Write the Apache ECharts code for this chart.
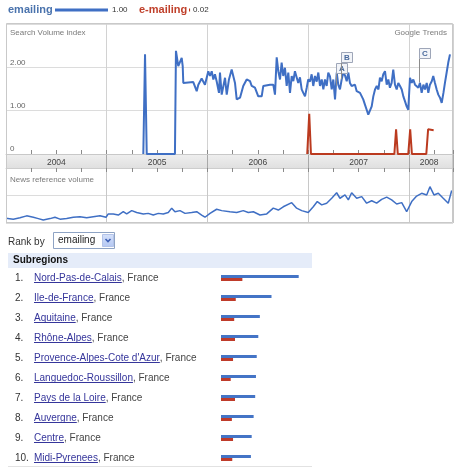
<!DOCTYPE html>
<html><head><meta charset="utf-8">
<script src="https://cdn.jsdelivr.net/npm/echarts@6/dist/echarts.min.js"></script>
<style>html,body{margin:0;padding:0;background:#fff}#c{width:460px;height:468px}</style>
</head><body><div id="c"></div>
<script>
const FONT = '"Liberation Sans", Arial, Helvetica, sans-serif';

// ---- data ----
const termNames = ['emailing', 'e-mailing'];
const termAverages = [1.00, 0.02];
const yearLabels = [2004, 2005, 2006, 2007, 2008];
const yearLabelPositions = [2004.5, 2005.5, 2006.5, 2007.5, 2008.2];
const volumeTicks = [0, 1, 2];

// [time (decimal year), search volume index]
const emailingSeries = [
[2005.363,0],[2005.380,2.30],[2005.397,0],[2005.677,0],[2005.687,2.38],[2005.710,2.03],[2005.727,2.07],[2005.744,2.22],[2005.754,2.03],[2005.760,1.64],
[2005.859,1.66],[2005.893,1.45],[2005.909,1.60],[2005.942,1.74],[2005.975,1.60],[2006.008,1.91],[2006.025,1.80],[2006.042,1.91],[2006.058,1.72],[2006.074,1.84],
[2006.091,1.68],[2006.114,1.41],[2006.124,1.88],[2006.141,1.37],[2006.174,1.76],[2006.191,1.37],[2006.213,1.72],[2006.240,1.95],[2006.273,1.64],[2006.290,1.26],
[2006.323,1.30],[2006.355,1.57],[2006.389,1.72],[2006.422,1.68],[2006.439,1.57],[2006.471,1.53],[2006.504,1.33],[2006.538,1.33],[2006.554,1.57],[2006.620,1.60],
[2006.653,1.60],[2006.670,1.37],[2006.687,2.23],[2006.703,1.91],[2006.720,1.72],[2006.736,2.11],[2006.752,1.80],[2006.769,1.99],[2006.786,1.57],[2006.802,1.88],
[2006.819,1.41],[2006.836,1.80],[2006.852,1.68],[2006.868,1.91],[2006.885,1.88],[2006.901,1.64],[2006.918,1.77],[2006.935,1.49],[2006.951,1.41],[2006.968,1.33],
[2006.985,1.53],[2007.000,1.72],[2007.017,1.67],[2007.034,1.84],[2007.050,1.57],[2007.067,1.80],[2007.084,1.67],[2007.100,1.88],[2007.117,1.57],[2007.134,1.72],
[2007.150,1.49],[2007.166,1.72],[2007.183,1.57],[2007.199,1.88],[2007.216,1.79],[2007.233,1.49],[2007.249,1.72],[2007.266,1.26],[2007.283,1.88],[2007.298,1.60],
[2007.315,1.49],[2007.332,1.72],[2007.348,1.88],[2007.365,1.81],[2007.382,1.68],[2007.398,1.88],[2007.414,1.64],[2007.431,1.57],[2007.448,1.53],[2007.464,1.60],
[2007.481,1.45],[2007.497,1.49],[2007.514,1.41],[2007.531,1.37],[2007.546,1.26],[2007.563,1.14],[2007.580,1.02],[2007.596,0.91],[2007.613,0.95],[2007.630,1.10],
[2007.646,1.33],[2007.663,1.49],[2007.680,1.57],[2007.697,1.49],[2007.712,1.76],[2007.729,1.68],[2007.745,1.84],[2007.762,1.91],[2007.779,1.60],[2007.795,1.72],
[2007.811,1.53],[2007.828,1.64],[2007.844,1.95],[2007.861,1.60],[2007.878,1.49],[2007.894,1.64],[2007.911,1.57],[2007.928,1.49],[2007.944,1.33],[2007.960,1.22],
[2007.977,1.10],[2007.993,1.02],[2008.010,1.76],[2008.027,1.64],[2008.043,1.72],[2008.060,1.60],[2008.077,1.64],[2008.093,1.53],[2008.109,1.64],[2008.126,1.41],
[2008.143,1.60],[2008.159,1.49],[2008.176,1.64],[2008.192,1.41],[2008.208,1.60],[2008.226,1.68],[2008.241,1.80],[2008.258,1.64],[2008.275,1.49],[2008.291,1.37],
[2008.308,1.30],[2008.325,1.18],[2008.342,1.41],[2008.357,1.64],[2008.374,1.88],[2008.390,2.11],[2008.407,2.30]
];
const eMailingSeries = [
[2006.990,0],[2007.010,0.93],[2007.027,0],[2007.855,0],[2007.872,0.57],[2007.889,0],[2007.993,0],[2008.012,0.57],[2008.029,0],[2008.172,0],[2008.190,0.57],[2008.245,0.55]
];
// [time, news reference volume (relative)]
const newsSeries = [
[2004.000,0.17],[2004.072,0.14],[2004.139,0.19],[2004.205,0.26],[2004.271,0.21],[2004.321,0.16],[2004.370,0.11],[2004.437,0.16],[2004.486,0.21],[2004.536,0.14],
[2004.602,0.16],[2004.668,0.21],[2004.734,0.23],[2004.801,0.19],[2004.866,0.23],[2004.933,0.26],[2004.993,0.21],[2005.015,0.33],[2005.065,0.33],[2005.115,0.29],
[2005.164,0.41],[2005.198,0.33],[2005.248,0.45],[2005.297,0.38],[2005.363,0.33],[2005.412,0.35],[2005.462,0.29],[2005.512,0.35],[2005.561,0.33],[2005.611,0.38],
[2005.645,0.54],[2005.677,0.41],[2005.727,0.45],[2005.777,0.35],[2005.843,0.38],[2005.893,0.41],[2005.942,0.29],[2005.975,0.21],[2006.025,0.35],[2006.091,0.50],
[2006.141,0.45],[2006.223,0.41],[2006.290,0.38],[2006.355,0.45],[2006.405,0.38],[2006.455,0.41],[2006.521,0.29],[2006.588,0.33],[2006.653,0.54],[2006.703,0.47],
[2006.752,0.59],[2006.836,0.74],[2006.885,0.54],[2006.935,0.45],[2007.000,0.38],[2007.050,0.59],[2007.090,0.78],[2007.134,0.66],[2007.183,0.72],[2007.233,0.90],
[2007.282,1.10],[2007.315,0.90],[2007.365,1.02],[2007.398,0.84],[2007.431,1.10],[2007.481,0.90],[2007.531,0.96],[2007.580,0.72],[2007.630,0.81],[2007.679,0.72],
[2007.729,0.86],[2007.779,0.94],[2007.828,0.84],[2007.878,0.69],[2007.928,0.74],[2007.977,0.41],[2008.027,0.78],[2008.076,0.98],[2008.126,1.08],[2008.176,1.02],
[2008.208,1.32],[2008.248,1.02],[2008.291,1.08],[2008.340,0.90],[2008.390,0.72],[2008.424,1.18]
];
// event flags on the emailing line: letter, time, anchor value
const eventLetters = ['A', 'B', 'C'];
const eventTimes = [2007.275, 2007.325, 2008.100];
const eventValues = [1.58, 1.72, 1.65];

const regionNames = ['Nord-Pas-de-Calais', 'Ile-de-France', 'Aquitaine', 'Rhône-Alpes', "Provence-Alpes-Cote d'Azur",
  'Languedoc-Roussillon', 'Pays de la Loire', 'Auvergne', 'Centre', 'Midi-Pyrenees'];
const regionCountry = 'France';
const emailingRegional = [100, 65, 50, 48, 46, 45, 44, 42, 39.5, 38.5];
const eMailingRegional = [27.5, 19, 17, 18, 15.5, 12.5, 18, 14, 15.5, 14.5];

// ---- styles ----
const BLUE = '#3f6fc4', RED = '#bb3a1f', LINK = '#35359b';
const X_MIN = 2004, X_MAX = 2008.437;
const poleLengths = [13, 17, 25];
const legendBarMax = 53;

const ul = document.createElement('canvas'); ul.width = 1; ul.height = 10;
const ulc = ul.getContext('2d'); ulc.fillStyle = LINK; ulc.fillRect(0, 9, 1, 1);

const chart = echarts.init(document.getElementById('c'), null, {renderer: 'canvas'});

const txt = (x, y, text, font, fill, align) => ({type: 'text', x: x, y: y, silent: true,
  style: {text: text, font: font, fill: fill, align: align || 'left', verticalAlign: 'middle'}});

const blueLen = legendBarMax * termAverages[0];
const redLen = Math.max(1, legendBarMax * termAverages[1]);

const graphics = [
  // legend
  txt(8, 10, termNames[0], 'bold 11px ' + FONT, '#4a73ad'),
  {type: 'rect', shape: {x: 55, y: 8.5, width: blueLen, height: 3}, style: {fill: BLUE}, silent: true},
  txt(55 + blueLen + 4, 10, termAverages[0].toFixed(2), '8px ' + FONT, '#333'),
  txt(139, 10, termNames[1], 'bold 11px ' + FONT, '#c0402b'),
  {type: 'rect', shape: {x: 189, y: 8.5, width: redLen, height: 3}, style: {fill: RED}, silent: true},
  txt(189 + redLen + 3, 10, termAverages[1].toFixed(2), '8px ' + FONT, '#333'),
  // chart frame
  {type: 'rect', shape: {x: 6.5, y: 23.5, width: 446, height: 199}, style: {fill: 'none', stroke: '#c9c9c9', lineWidth: 1}, silent: true, z: 10},
  txt(10, 33, 'Search Volume index', '8px ' + FONT, '#7a7a7a'),
  txt(447, 33, 'Google Trends', '8px ' + FONT, '#7a7a7a', 'right'),
  txt(10, 180, 'News reference volume', '8px ' + FONT, '#7a7a7a'),
  // rank by
  txt(8, 242, 'Rank by', '10px ' + FONT, '#333'),
  {type: 'rect', shape: {x: 53.5, y: 232.5, width: 61, height: 16}, style: {fill: '#fff', stroke: '#8ea3c4', lineWidth: 1}, silent: true},
  txt(58, 240.5, termNames[0], '10px ' + FONT, '#222'),
  {type: 'rect', shape: {x: 102.5, y: 234.5, width: 11, height: 12},
    style: {fill: new echarts.graphic.LinearGradient(0, 0, 0, 1, [{offset: 0, color: '#d6e2fb'}, {offset: 1, color: '#b4c7f2'}]), stroke: '#b3c3e8', lineWidth: 1}, silent: true},
  {type: 'polyline', shape: {points: [[105.5, 239], [108, 241.5], [110.5, 239]]}, style: {stroke: '#3d5fb5', lineWidth: 1.6, fill: 'none'}, silent: true},
  // subregions header
  {type: 'rect', shape: {x: 8, y: 253, width: 304, height: 15}, style: {fill: '#e5ecf9'}, silent: true},
  txt(13, 260.5, 'Subregions', 'bold 10px ' + FONT, '#111'),
  {type: 'line', shape: {x1: 8, y1: 466.5, x2: 312, y2: 466.5}, style: {stroke: '#e2e2e2', lineWidth: 1}, silent: true}
];

const tickAxis = (grid, pos) => ({type: 'value', gridIndex: grid, min: X_MIN, max: X_MAX, interval: 0.25, position: pos, offset: 0,
  axisLine: {show: false, onZero: false}, axisLabel: {show: false}, splitLine: {show: false},
  axisTick: {show: true, inside: true, length: 4, lineStyle: {color: '#8a8a8a'}}});
const yearAxis = (grid, color, pos) => ({type: 'value', gridIndex: grid, min: X_MIN, max: X_MAX, interval: 1, position: pos, offset: 0,
  axisLine: {show: false, onZero: false}, axisLabel: {show: false}, axisTick: {show: false},
  splitLine: {show: true, lineStyle: {color: color, width: 1}}});

const option = {
  animation: false,
  backgroundColor: '#fff',
  textStyle: {fontFamily: FONT},
  graphic: {elements: graphics},
  grid: [
    {left: 6, right: 7, top: 24, height: 130},
    {left: 6, right: 7, top: 154, height: 14, show: true, borderWidth: 0,
      backgroundColor: new echarts.graphic.LinearGradient(0, 0, 0, 1, [{offset: 0, color: '#efefef'}, {offset: 1, color: '#e0e0e0'}])},
    {left: 6, right: 7, top: 168, height: 55},
    {left: 221, top: 268, width: 77.7, height: 200}
  ],
  xAxis: [
    yearAxis(0, '#d2d2d2', 'top'),
    Object.assign(tickAxis(0, 'bottom'), {axisLine: {show: true, onZero: false, lineStyle: {color: '#c8c8c8'}}}),
    {type: 'value', gridIndex: 1, min: X_MIN, max: X_MAX, interval: 1, position: 'bottom',
      axisLine: {show: true, onZero: false, lineStyle: {color: '#cdcdcd'}}, axisTick: {show: false},
      splitLine: {show: true, lineStyle: {color: '#a9a9a9'}},
      axisLabel: {show: true, inside: true, margin: 1, customValues: yearLabelPositions,
        formatter: v => String(yearLabels[yearLabelPositions.indexOf(v)] ?? Math.floor(v)),
        fontSize: 8.5, color: '#444', fontFamily: FONT}},
    tickAxis(2, 'top'),
    yearAxis(2, '#c8c8c8', 'bottom'),
    {type: 'value', gridIndex: 3, min: 0, max: 100, show: false}
  ],
  yAxis: [
    {type: 'value', gridIndex: 0, min: 0, max: 3, interval: 1,
      axisLine: {show: false}, axisTick: {show: false},
      splitLine: {show: true, lineStyle: {color: '#dcdcdc'}},
      axisLabel: {inside: true, margin: 4, verticalAlign: 'bottom', padding: [0, 0, 1, 0], fontSize: 8, color: '#666', fontFamily: FONT,
        formatter: v => volumeTicks.indexOf(v) < 0 ? '' : (v === 0 ? '0' : v.toFixed(2))}},
    {type: 'value', gridIndex: 1, show: false},
    {type: 'value', gridIndex: 2, min: 0, max: 2, interval: 1,
      axisLine: {show: false}, axisTick: {show: false}, axisLabel: {show: false},
      splitLine: {show: true, lineStyle: {color: '#dcdcdc'}}},
    {type: 'category', gridIndex: 3, inverse: true, data: regionNames,
      axisLine: {show: false}, axisTick: {show: false}, splitLine: {show: false},
      axisLabel: {align: 'left', margin: 206, interval: 0,
        formatter: (v, i) => '{num|' + (i + 1) + '.}{link|' + v + '}{rest|, ' + regionCountry + '}',
        rich: {
          num: {width: 19, align: 'left', fontSize: 10, color: '#333', fontFamily: FONT},
          link: {fontSize: 10, color: LINK, fontFamily: FONT, height: 10, backgroundColor: {image: ul}},
          rest: {fontSize: 10, color: '#444', fontFamily: FONT}
        }}}
  ],
  series: [
    {type: 'line', name: termNames[0], xAxisIndex: 0, yAxisIndex: 0, data: emailingSeries, showSymbol: false, symbol: 'none',
      lineStyle: {color: BLUE, width: 2}, z: 4},
    {type: 'line', name: termNames[1], xAxisIndex: 0, yAxisIndex: 0, data: eMailingSeries, showSymbol: false, symbol: 'none',
      lineStyle: {color: RED, width: 2}, z: 5},
    {type: 'custom', xAxisIndex: 0, yAxisIndex: 0, z: 6, clip: false,
      data: eventTimes.map((t, i) => [t, eventValues[i]]),
      renderItem: (params, api) => {
        const i = params.dataIndex;
        const p = api.coord([api.value(0), api.value(1)]);
        const x = Math.round(p[0]) + 0.5;
        const top = Math.round(p[1] - poleLengths[i]) + 0.5;
        return {type: 'group', children: [
          {type: 'line', shape: {x1: x, y1: p[1], x2: x, y2: top}, style: {stroke: '#8c8c8c', lineWidth: 1}},
          {type: 'rect', shape: {x: x, y: top - 10, width: 11, height: 10}, style: {fill: '#f2f4f8', stroke: '#9ea6b8', lineWidth: 1}},
          {type: 'text', style: {x: x + 5.5, y: top - 4.5, text: eventLetters[i], align: 'center', verticalAlign: 'middle',
            font: 'bold 8px ' + FONT, fill: '#4a6a9c'}}
        ]};
      }},
    {type: 'line', name: 'news', xAxisIndex: 4, yAxisIndex: 2, data: newsSeries, showSymbol: false, symbol: 'none',
      lineStyle: {color: BLUE, width: 1.5}, z: 4},
    {type: 'bar', name: termNames[0], xAxisIndex: 5, yAxisIndex: 3, data: emailingRegional, barWidth: 3, barGap: '0%',
      itemStyle: {color: '#4474c6'}},
    {type: 'bar', name: termNames[1], xAxisIndex: 5, yAxisIndex: 3, data: eMailingRegional, barWidth: 3, barGap: '0%',
      itemStyle: {color: '#bf3b2a'}}
  ]
};
chart.setOption(option);
</script></body></html>
